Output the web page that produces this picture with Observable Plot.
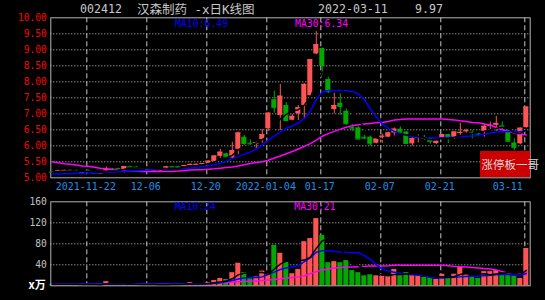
<!DOCTYPE html>
<html><head><meta charset="utf-8">
<script src="https://cdn.jsdelivr.net/npm/d3@7"></script>
<script src="https://cdn.jsdelivr.net/npm/@observablehq/plot@0.6"></script>
<style>
html,body{margin:0;padding:0;background:#000;width:545px;height:300px;overflow:hidden;}
#wrap{position:relative;width:545px;height:300px;background:#000;}
.abs{position:absolute;white-space:pre;line-height:1;}
.mono{font-family:"DejaVu Sans Mono",monospace;}
.cjk{font-family:"DejaVu Sans Mono","Noto Sans CJK SC",monospace;}
svg{position:absolute;left:0;overflow:visible;}
</style></head><body><div id="wrap"></div>
<script>
// ---- data ----
const stockCode = "002412";
const stockName = "汉森制药 -x日K线图";
const titleDate = "2022-03-11";
const titleValue = "9.97";
const badge = "涨停板一哥";
const volUnit = "x万";

const dates = ["2021-11-12","2021-11-15","2021-11-16","2021-11-17","2021-11-18","2021-11-19","2021-11-22","2021-11-23","2021-11-24","2021-11-25",
"2021-11-26","2021-11-29","2021-11-30","2021-12-01","2021-12-02","2021-12-03","2021-12-06","2021-12-07","2021-12-08","2021-12-09",
"2021-12-10","2021-12-13","2021-12-14","2021-12-15","2021-12-16","2021-12-17","2021-12-20","2021-12-21","2021-12-22","2021-12-23",
"2021-12-24","2021-12-27","2021-12-28","2021-12-29","2021-12-30","2021-12-31","2022-01-04","2022-01-05","2022-01-06","2022-01-07",
"2022-01-10","2022-01-11","2022-01-12","2022-01-13","2022-01-14","2022-01-17","2022-01-18","2022-01-19","2022-01-20","2022-01-21",
"2022-01-24","2022-01-25","2022-01-26","2022-01-27","2022-01-28","2022-02-07","2022-02-08","2022-02-09","2022-02-10","2022-02-11",
"2022-02-14","2022-02-15","2022-02-16","2022-02-17","2022-02-18","2022-02-21","2022-02-22","2022-02-23","2022-02-24","2022-02-25",
"2022-02-28","2022-03-01","2022-03-02","2022-03-03","2022-03-04","2022-03-07","2022-03-08","2022-03-09","2022-03-10","2022-03-11"];

const open = [5.18,5.21,5.21,5.21,5.23,5.12,5.23,5.16,5.13,5.22,
5.28,5.29,5.25,5.35,5.33,5.31,5.27,5.22,5.22,5.31,
5.35,5.35,5.36,5.39,5.41,5.42,5.46,5.51,5.67,5.75,
5.62,5.89,6.27,6.08,6.05,6.19,6.53,7.44,6.95,7.26,
6.80,7.00,7.26,7.57,8.87,9.04,8.07,7.13,7.33,7.08,
6.58,6.56,6.27,6.27,6.08,6.27,6.27,6.40,6.52,6.43,
6.06,6.24,6.26,6.22,6.07,6.22,6.35,6.24,6.39,6.44,
6.42,6.39,6.45,6.62,6.64,6.62,6.47,6.09,6.06,6.57];

const close = [5.17,5.22,5.23,5.23,5.21,5.15,5.21,5.15,5.15,5.28,
5.26,5.28,5.35,5.34,5.31,5.30,5.25,5.23,5.24,5.34,
5.34,5.33,5.38,5.42,5.42,5.44,5.52,5.68,5.80,5.65,
5.85,6.40,6.07,6.06,6.10,6.35,7.02,7.19,7.55,6.79,
6.92,7.19,7.92,8.69,9.16,8.51,7.69,7.26,7.23,6.69,
6.55,6.21,6.24,6.06,6.21,6.30,6.40,6.52,6.43,6.07,
6.22,6.26,6.24,6.14,6.14,6.35,6.24,6.43,6.42,6.47,
6.40,6.37,6.61,6.64,6.70,6.60,6.14,5.95,6.55,7.21];

const high = [5.19,5.24,5.24,5.24,5.24,5.16,5.24,5.17,5.16,5.34,
5.29,5.30,5.36,5.36,5.35,5.32,5.28,5.24,5.25,5.36,
5.36,5.36,5.39,5.43,5.44,5.45,5.53,5.69,5.89,5.77,
6.11,6.43,6.32,6.19,6.12,6.51,7.03,7.71,7.92,7.35,
6.98,7.26,7.94,8.70,9.57,9.06,8.14,7.64,7.63,7.15,
6.66,6.60,6.33,6.32,6.22,6.37,6.43,6.56,6.59,6.45,
6.31,6.34,6.33,6.25,6.15,6.36,6.36,6.44,6.70,6.52,
6.47,6.40,6.67,6.74,6.92,6.75,6.49,6.22,6.56,7.21];

const low = [5.16,5.19,5.20,5.20,5.20,5.11,5.19,5.14,5.12,5.21,
5.25,5.27,5.15,5.33,5.30,5.29,5.24,5.21,5.21,5.30,
5.33,5.31,5.35,5.38,5.39,5.41,5.45,5.47,5.61,5.63,
5.60,5.72,6.01,6.01,5.88,6.08,6.45,7.02,6.48,6.79,
6.78,6.79,6.84,7.52,8.85,8.22,7.64,7.00,6.95,6.64,
6.44,6.19,6.19,5.99,6.06,6.08,6.25,6.25,6.34,6.03,
5.99,6.09,6.17,6.05,6.04,6.20,6.07,6.20,6.27,6.39,
6.22,6.29,6.27,6.50,6.45,6.50,6.12,5.84,6.03,6.55];

const volume = [3,3,3,3,2,2,3,2,2,8,
3,2,3,3,3,2,2,2,2,3,
3,3,3,6,3,4,6,10,14,12,
25,43,25,15,17,28,23,77,62,45,
23,31,84,90,128,96,44,46,44,48,
29,25,19,21,19,18,19,31,20,25,
20,20,16,16,12,22,16,22,36,21,
16,14,27,27,29,22,22,18,14,71];

const ma10 = [5.12,5.12,5.13,5.13,5.14,5.14,5.15,5.15,5.16,5.17,
5.18,5.19,5.21,5.22,5.22,5.23,5.24,5.25,5.26,5.27,
5.28,5.29,5.30,5.31,5.33,5.36,5.38,5.41,5.45,5.52,
5.60,5.67,5.74,5.80,5.90,6.02,6.18,6.30,6.43,6.55,
6.62,6.72,6.85,7.08,7.45,7.68,7.73,7.73,7.73,7.72,
7.70,7.62,7.45,7.15,6.90,6.68,6.55,6.45,6.37,6.33,
6.29,6.27,6.25,6.24,6.24,6.25,6.26,6.27,6.28,6.30,
6.31,6.33,6.36,6.40,6.43,6.44,6.45,6.44,6.44,6.49];

const ma30 = [5.50,5.47,5.44,5.42,5.40,5.37,5.36,5.33,5.30,5.28,
5.25,5.23,5.22,5.22,5.21,5.20,5.20,5.20,5.20,5.20,
5.20,5.21,5.23,5.24,5.25,5.25,5.27,5.28,5.30,5.32,
5.34,5.37,5.41,5.45,5.48,5.50,5.55,5.62,5.68,5.75,
5.82,5.90,5.98,6.07,6.18,6.30,6.38,6.45,6.52,6.58,
6.63,6.66,6.68,6.70,6.72,6.73,6.76,6.81,6.82,6.84,
6.84,6.84,6.84,6.84,6.84,6.84,6.82,6.81,6.78,6.76,
6.73,6.72,6.68,6.65,6.57,6.50,6.45,6.40,6.37,6.34];

const vma10 = [3.4,3.4,3.4,3.4,3.3,3.3,3.3,3.2,3.2,3.5,
3.5,3.5,3.5,3.5,3.5,3.4,3.4,3.3,3.2,3.2,
3.2,3.2,3.2,3.5,3.5,3.6,3.9,4.6,5.6,8.0,
10,13,15,15.5,16,17,22,26,31,34,
36,38,46,53,64,67,67,66,64,64,
63,63,58,50,40,32,28,26,24,22,
21,20,19,16,15,15,16,16.5,17,17.5,
18,18,19,20,21,21.6,21.5,20,19,24];

const vma30 = [3.9,3.9,3.9,3.9,3.9,3.9,3.9,3.9,3.9,3.9,
3.9,3.9,3.9,3.9,3.9,3.9,3.9,3.9,3.9,3.9,
3.9,3.9,3.9,3.9,3.9,4.0,4.3,4.8,5.3,6.0,
6.8,7.5,8.2,8.8,9.3,10,11,12,13,15,
16,17,19,23,27,30,32,34,35,36,
36,36.5,37,37.5,37.5,37.5,38,39,39,39,
39,39,39,39,39,39,38,37,36.5,36,
35,34,33,32,30,27,24,23,22,21];

const tickDates = ["2021-11-22","2021-12-06","2021-12-20","2022-01-04","2022-01-17","2022-02-07","2022-02-21","2022-03-11"];
const tickLabels = ["2021-11-22","12-06","12-20","2022-01-04","01-17","02-07","02-21","03-11"];
const priceTicks = [5,5.5,6,6.5,7,7.5,8,8.5,9,9.5,10];
const priceGrid = [5.5,6,6.5,7,7.5,8,8.5,9,9.5];
const volTicks = [40,80,120,160];
const volGrid = [40,80,120];

// ---- styles ----
const RED = "#ff5454", GREEN = "#00a800", BLUE = "#0000ff", MAG = "#ff00ff";
const GRID = "#c8c8c8", FRAME = "#b4b4b4";
const MONO = "DejaVu Sans Mono";
const HW = 0.42;
const XD = [-0.25, 79.65];

const rows = dates.map((d, i) => ({
  i, d, o: open[i], h: high[i], l: low[i], c: close[i], v: volume[i],
  m10: ma10[i], m30: ma30[i], vm10: vma10[i], vm30: vma30[i],
  col: close[i] >= open[i] ? RED : GREEN
}));
const ticks = tickDates.map((d, k) => ({idx: dates.indexOf(d), label: tickLabels[k]}));
const ticksMain = ticks.slice(0, -1);
const ticksLast = ticks.slice(-1);

const wrap = document.getElementById("wrap");

const topPlot = Plot.plot({
  width: 545, height: 195,
  marginLeft: 50.3, marginRight: 15.3, marginTop: 17.3, marginBottom: 17.7,
  style: {background: "transparent", overflow: "visible"},
  x: {type: "linear", domain: XD, axis: null},
  y: {domain: [5, 10], axis: null},
  color: {type: "identity"},
  marks: [
    Plot.ruleY(priceGrid, {stroke: GRID, strokeDasharray: "1,2"}),
    Plot.ruleX(ticks, {x: d => d.idx - 0.25, stroke: GRID, strokeDasharray: "5,3"}),
    Plot.frame({stroke: FRAME}),
    Plot.ruleX(rows, {x: "i", y1: "l", y2: "h", stroke: "col"}),
    Plot.rect(rows, {x1: d => d.i - HW, x2: d => d.i + HW, y1: "o", y2: "c", fill: "col"}),
    Plot.ruleY(rows, {y: "c", x1: d => d.i - HW, x2: d => d.i + HW, stroke: "col"}),
    Plot.line(rows, {x: "i", y: "m30", stroke: MAG}),
    Plot.line(rows, {x: "i", y: "m10", stroke: BLUE}),
    Plot.line(rows, Plot.windowY({k: 5, anchor: "end"}, {x: "i", y: "c", stroke: "#000"})),
    Plot.text(priceTicks, {x: XD[0], y: d => d, text: d => d.toFixed(2), textAnchor: "end", dx: -4,
      fill: "#ff0000", fontSize: 9.6, fontFamily: MONO}),
    Plot.text(ticksMain, {x: d => d.idx - 0.25, y: 5, dy: 9, dx: -1, text: "label",
      fill: "#1f8fe6", fontSize: 10, fontFamily: MONO}),
    Plot.text(ticksLast, {x: d => d.idx - 0.25, y: 5, dy: 9, dx: -2, text: "label", textAnchor: "end",
      fill: "#1f8fe6", fontSize: 10, fontFamily: MONO})
  ]
});
topPlot.style.top = "0px";
wrap.appendChild(topPlot);

const botPlot = Plot.plot({
  width: 545, height: 105,
  marginLeft: 50.3, marginRight: 15.3, marginTop: 6.3, marginBottom: 14.7,
  style: {background: "transparent", overflow: "visible"},
  x: {type: "linear", domain: XD, axis: null},
  y: {domain: [0, 160], axis: null},
  color: {type: "identity"},
  marks: [
    Plot.ruleY(volGrid, {stroke: GRID, strokeDasharray: "1,2"}),
    Plot.ruleX(ticks, {x: d => d.idx - 0.25, stroke: GRID, strokeDasharray: "5,3"}),
    Plot.rect(rows, {x1: d => d.i - HW, x2: d => d.i + HW, y1: 0, y2: "v", fill: "col"}),
    Plot.frame({stroke: FRAME}),
    Plot.line(rows, {x: "i", y: "vm30", stroke: MAG}),
    Plot.line(rows, {x: "i", y: "vm10", stroke: BLUE}),
    Plot.line(rows, Plot.windowY({k: 5, anchor: "end"}, {x: "i", y: "v", stroke: "#000"})),
    Plot.text(volTicks, {x: XD[0], y: d => d, text: d => String(d), textAnchor: "end", dx: -4,
      fill: "#c0c0c0", fontSize: 9.6, fontFamily: MONO}),
    Plot.text([volUnit], {x: XD[0], y: 0, text: d => d, textAnchor: "end", dx: -5,
      fill: "#ffffff", fontSize: 11, fontWeight: "bold", fontFamily: "Noto Sans CJK SC"})
  ]
});
botPlot.style.top = "195px";
wrap.appendChild(botPlot);

// ---- text overlays ----
function addText(txt, left, top, size, color, cls, extra) {
  const s = document.createElement("div");
  s.className = "abs " + cls;
  s.textContent = txt;
  s.style.left = left + "px";
  s.style.top = top + "px";
  s.style.fontSize = size + "px";
  s.style.color = color;
  if (extra) Object.assign(s.style, extra);
  wrap.appendChild(s);
  return s;
}
addText(stockCode, 80, 4, 11.6, "#c8c8c8", "mono");
addText(stockName, 137, 3.5, 12.5, "#c8c8c8", "cjk");
addText(titleDate, 318, 4, 11.6, "#c8c8c8", "mono");
addText(titleValue, 415, 4, 11.6, "#c8c8c8", "mono");
addText("MA10:" + ma10[ma10.length - 1].toFixed(2), 175, 18.5, 9.8, BLUE, "mono");
addText("MA30:" + ma30[ma30.length - 1].toFixed(2), 295, 18.5, 9.8, MAG, "mono");
addText("MA10:" + Math.round(vma10[vma10.length - 1]), 174.7, 201.5, 9.8, BLUE, "mono");
addText("MA30:" + Math.round(vma30[vma30.length - 1]), 294.3, 201.5, 9.8, MAG, "mono");

const box = document.createElement("div");
box.className = "abs";
Object.assign(box.style, {left: "480px", top: "151px", width: "49.5px", height: "25.7px", background: "#cc0000"});
wrap.appendChild(box);
addText(badge, 481.5, 158.5, 11.5, "#d8d8d8", "", {fontFamily: "Noto Sans CJK SC"});
</script>
</body></html>
